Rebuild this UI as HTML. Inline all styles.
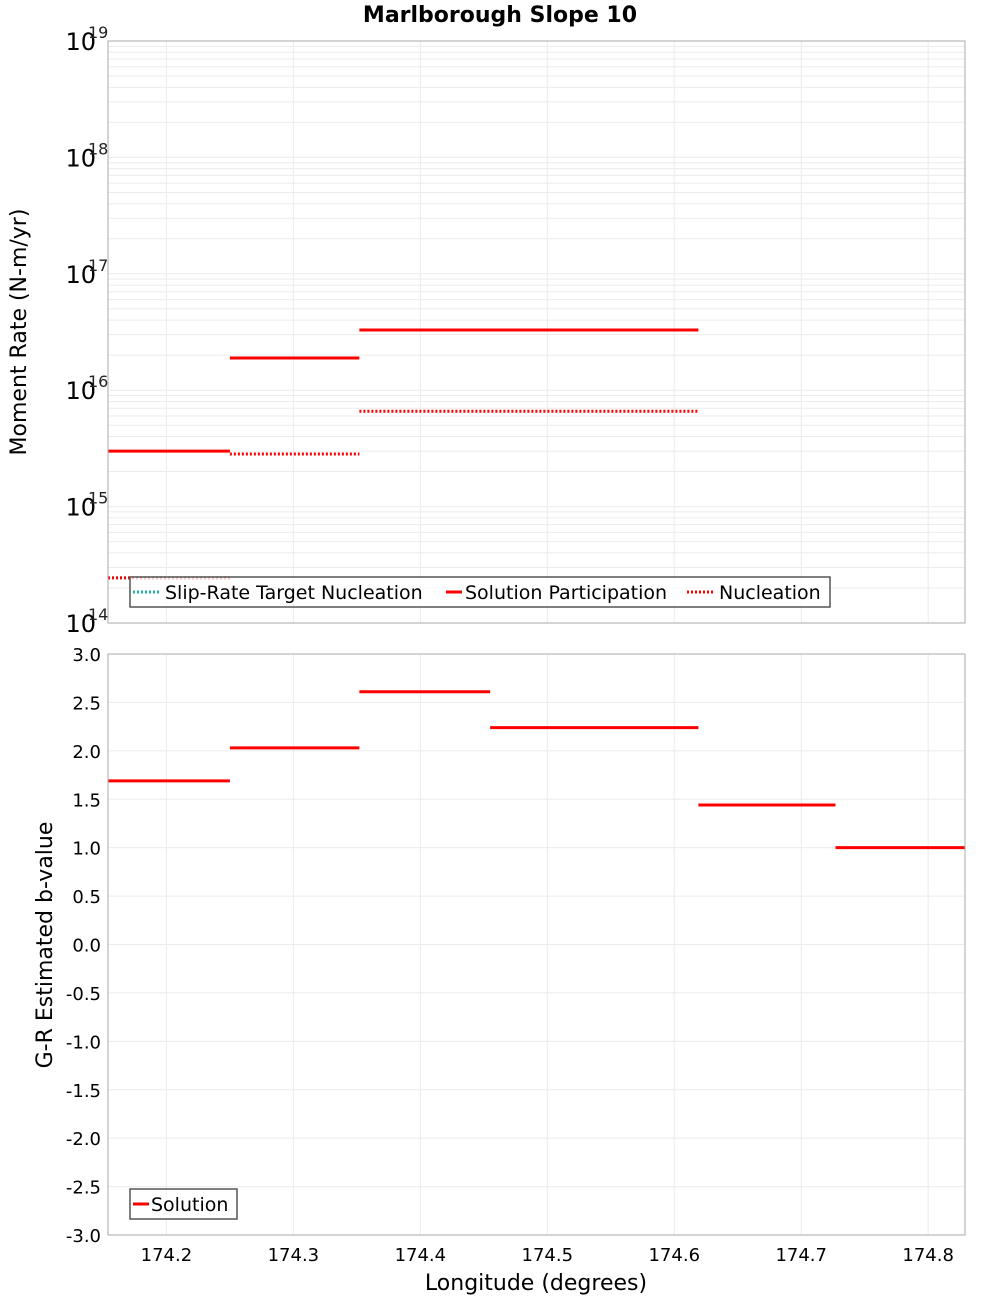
<!DOCTYPE html>
<html><head><meta charset="utf-8"><style>
body{margin:0;background:#fff;font-family:"DejaVu Sans","Liberation Sans",sans-serif;}
svg{display:block}
</style></head><body>
<svg id="c" width="1000" height="1300" xmlns="http://www.w3.org/2000/svg" font-family="DejaVu Sans, Liberation Sans, sans-serif">
<text x="500" y="22" text-anchor="middle" font-size="22" font-weight="bold">Marlborough Slope 10</text>
<g id="topPanel"></g>
<g id="botPanel"></g>
</svg>
<script>
// data
const xTicks=[174.2,174.3,174.4,174.5,174.6,174.7,174.8];
const logTicks=[14,15,16,17,18,19];
const bTicks=[3.0,2.5,2.0,1.5,1.0,0.5,0.0,-0.5,-1.0,-1.5,-2.0,-2.5,-3.0];
const partStart=[174.154,174.250,174.352];
const partEnd=[174.250,174.352,174.619];
const partVals=[3.0e15,1.89e16,3.29e16];
const nuclStart=[174.154,174.250,174.352];
const nuclEnd=[174.250,174.352,174.619];
const nuclVals=[2.44e14,2.83e15,6.6e15];
const targetStart=[174.154];
const targetEnd=[174.250];
const targetVals=[2.44e14];
const bStart=[174.154,174.250,174.352,174.455,174.619,174.727];
const bEnd=[174.250,174.352,174.455,174.619,174.727,174.829];
const bVals=[1.69,2.03,2.61,2.24,1.44,1.0];

const NS="http://www.w3.org/2000/svg";
const L=108,R=965,T1=41,B1=623,T2=654,B2=1235;
const xMin=174.154,xMax=174.829;
const X=v=>L+(v-xMin)/(xMax-xMin)*(R-L);
const Y1=v=>T1+(19-Math.log10(v))/5*(B1-T1);
const Y2=v=>T2+(3-v)/6*(B2-T2);
function mk(tag,attrs,parent,text){const e=document.createElementNS(NS,tag);for(const k in attrs)e.setAttribute(k,attrs[k]);if(text!==undefined)e.textContent=text;parent.appendChild(e);return e;}
const topG=document.getElementById('topPanel'),botG=document.getElementById('botPanel');

function frame(g,T,B){
  const r=mk('rect',{x:L,y:T,width:R-L,height:B-T,fill:'#fff',stroke:'none'},g);
  
  
  xTicks.forEach(t=>{const l=mk('line',{x1:X(t),x2:X(t),y1:T,y2:B,stroke:'#ebebeb'},g);
    
    });
}
frame(topG,T1,B1);
for(let d=14;d<19;d++){for(let m=1;m<10;m++){const y=Y1(m*Math.pow(10,d));
  const l=mk('line',{x1:L,x2:R,y1:y,y2:y,stroke:'#ebebeb'},topG);
  
  }}
logTicks.forEach(t=>{const y=Y1(Math.pow(10,t));
  const tx=mk('text',{x:96,y:y+9,'text-anchor':'end','font-size':24},topG,'10');
  
  
  const s=mk('text',{x:88,y:y-3,'font-size':16,fill:'#222'},topG,String(t));
  
  });
function segs(g,Y,st,en,vals,color,dash,name){
  vals.forEach((v,i)=>{const a={x1:X(st[i]),x2:X(en[i]),y1:Y(v),y2:Y(v),stroke:color,'stroke-width':3};
    if(dash)a['stroke-dasharray']=dash;const l=mk('line',a,g);
    
    });
}
segs(topG,Y1,targetStart,targetEnd,targetVals,'#20b2aa','2,2','target-nucleation-segment');
segs(topG,Y1,partStart,partEnd,partVals,'#ff0000',null,'participation-segment');
segs(topG,Y1,nuclStart,nuclEnd,nuclVals,'#ff0000','2,2','nucleation-segment');
const b1=mk('rect',{x:L,y:T1,width:R-L,height:B1-T1,fill:'none',stroke:'#aaa'},topG);


const yt1=mk('text',{x:26,y:332,'text-anchor':'middle','font-size':22,transform:'rotate(-90 26 332)'},topG,'Moment Rate (N-m/yr)');


const lg=mk('g',{},topG);


mk('rect',{x:130,y:577,width:700,height:30,fill:'rgba(255,255,255,0.75)',stroke:'#555','stroke-width':1.5},lg);
const items=[[133,165,'#20b2aa','2,2','Slip-Rate Target Nucleation'],[446,465,'#ff0000',null,'Solution Participation'],[687,719,'#ff0000','2,2','Nucleation']];
items.forEach(it=>{const a={x1:it[0],x2:it[0]+(it[3]?28:16),y1:592,y2:592,stroke:it[2],'stroke-width':3};if(it[3])a['stroke-dasharray']=it[3];
  const ln=mk('line',a,lg);
  
  
  const t=mk('text',{x:it[1],y:599,'font-size':19},lg,it[4]);
  
  });

frame(botG,T2,B2);
bTicks.forEach(t=>{const y=Y2(t);
  const l=mk('line',{x1:L,x2:R,y1:y,y2:y,stroke:'#ebebeb'},botG);
  
  
  const tx=mk('text',{x:101,y:y+7,'text-anchor':'end','font-size':18},botG,t.toFixed(1));
  
  });
segs(botG,Y2,bStart,bEnd,bVals,'#ff0000',null,'b-value-segment');
const b2=mk('rect',{x:L,y:T2,width:R-L,height:B2-T2,fill:'none',stroke:'#aaa'},botG);


xTicks.forEach(t=>{const tx=mk('text',{x:X(t),y:1261,'text-anchor':'middle','font-size':18},botG,t.toFixed(1));
  
  });
const xt=mk('text',{x:536,y:1290,'text-anchor':'middle','font-size':22},botG,'Longitude (degrees)');


const yt2=mk('text',{x:52,y:945,'text-anchor':'middle','font-size':22,transform:'rotate(-90 52 945)'},botG,'G-R Estimated b-value');


const lg2=mk('g',{},botG);


mk('rect',{x:130,y:1189,width:107,height:30,fill:'rgba(255,255,255,0.75)',stroke:'#555','stroke-width':1.5},lg2);
const sw=mk('line',{x1:133,x2:149,y1:1204,y2:1204,stroke:'#ff0000','stroke-width':3},lg2);


const lt=mk('text',{x:151,y:1211,'font-size':19},lg2,'Solution');


</script>
</body></html>
